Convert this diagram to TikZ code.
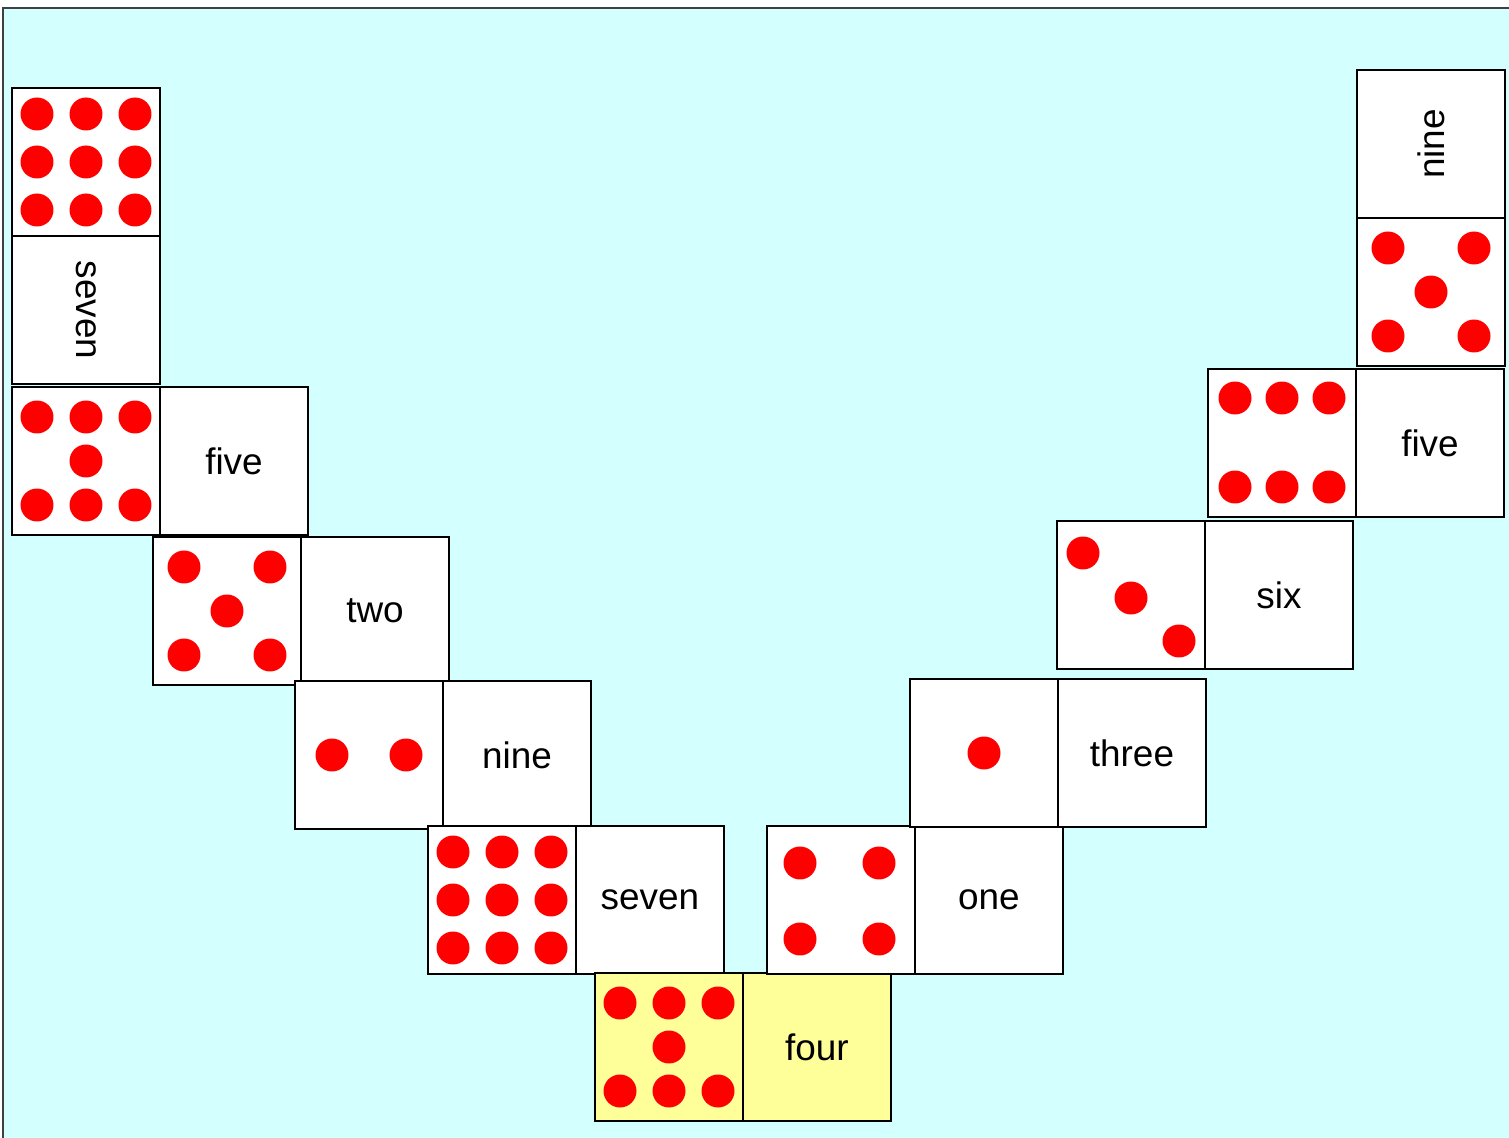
\documentclass[tikz,border=0pt]{standalone}
\usepackage{fontspec}
\setmainfont{Liberation Sans}
\usepackage{xcolor}
\usetikzlibrary{positioning}
\definecolor{domsky}{HTML}{D4FFFF}
\definecolor{domyellow}{HTML}{FFFF99}
\definecolor{dompip}{HTML}{FF0000}
\definecolor{domframe}{HTML}{404040}

\begin{document}
\begin{tikzpicture}[
  x=0.02cm, y=-0.02cm,
  every node/.style={font=\fontsize{21}{25}\selectfont},
  half/.style={draw=black, fill=white, line width=1.6pt, outer sep=0pt,
               inner sep=0pt, minimum width=2.96cm, minimum height=2.96cm},
  gold/.style={half, fill=domyellow},
  pip/.style={fill=dompip}
]

% sheet
\useasboundingbox (0,0) rectangle (1509,1138);
\draw[domframe, fill=domsky, line width=0.8pt] (3,8) rectangle (1530,1160);

% left arm, top to bottom
\node[half] (d1a) at (86,162) {};
\node[half, below=0pt of d1a] (d1b) {\rotatebox{-90}{seven}};

\node[half] (d2a) at (86,461) {};
\node[half, right=0pt of d2a] (d2b) {five};

\node[half] (d3a) at (227,611) {};
\node[half, right=0pt of d3a] (d3b) {two};

\node[half] (d4a) at (369,755) {};
\node[half, right=0pt of d4a] (d4b) {nine};

\node[half] (d5a) at (502,900) {};
\node[half, right=0pt of d5a] (d5b) {seven};

% start domino
\node[gold] (d6a) at (669,1047) {};
\node[gold, right=0pt of d6a] (d6b) {four};

% right arm, bottom to top
\node[half] (d7a) at (841,900) {};
\node[half, right=0pt of d7a] (d7b) {one};

\node[half] (d8a) at (984,753) {};
\node[half, right=0pt of d8a] (d8b) {three};

\node[half] (d9a) at (1131,595) {};
\node[half, right=0pt of d9a] (d9b) {six};

\node[half] (d10a) at (1282,443) {};
\node[half, right=0pt of d10a] (d10b) {five};

\node[half] (d11a) at (1431,292) {};
\node[half, above=0pt of d11a] (d11b) {\rotatebox{90}{nine}};

% pips
\foreach \n in {d1a, d5a}
  \foreach \dx in {-49, 0, 49}
    \foreach \dy in {-48, 0, 48}
      \fill[pip] (\n) ++(\dx,\dy) circle (0.33cm);
\foreach \n in {d2a, d6a}
  \foreach \dx/\dy in {-49/-44, 0/-44, 49/-44, 0/0, -49/44, 0/44, 49/44}
    \fill[pip] (\n) ++(\dx,\dy) circle (0.33cm);
\foreach \n in {d3a, d11a}
  \foreach \dx/\dy in {-43/-44, 43/-44, 0/0, -43/44, 43/44}
    \fill[pip] (\n) ++(\dx,\dy) circle (0.33cm);
\foreach \dx/\dy in {-37/0, 37/0}
  \fill[pip] (d4a) ++(\dx,\dy) circle (0.33cm);
\foreach \dx/\dy in {-41/-37, 38/-37, -41/39, 38/39}
  \fill[pip] (d7a) ++(\dx,\dy) circle (0.33cm);
\fill[pip] (d8a) circle (0.33cm);
\foreach \dx/\dy in {-48/-42, 0/3, 48/46}
  \fill[pip] (d9a) ++(\dx,\dy) circle (0.33cm);
\foreach \dx/\dy in {-47/-45, 0/-45, 47/-45, -47/44, 0/44, 47/44}
  \fill[pip] (d10a) ++(\dx,\dy) circle (0.33cm);

\end{tikzpicture}
\end{document}
